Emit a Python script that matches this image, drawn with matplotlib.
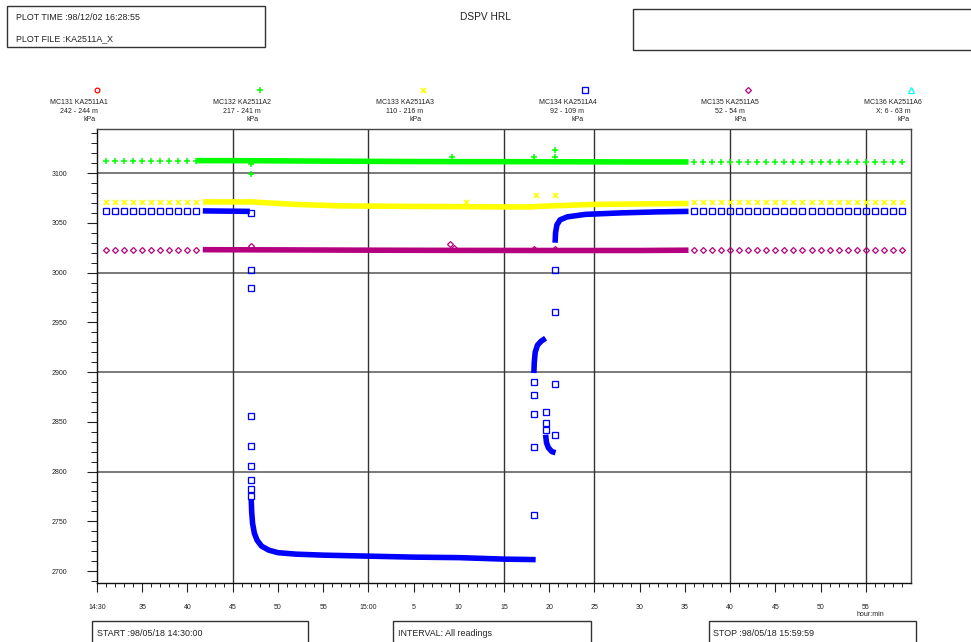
import matplotlib
matplotlib.use("Agg")
import matplotlib.pyplot as plt
from matplotlib.patches import Rectangle
from matplotlib.ticker import FixedLocator

plt.rcParams['font.family'] = ['Liberation Sans', 'DejaVu Sans']

W, H, DPI = 971, 642, 100
TXT = '#222222'

# ---------------- data (time in minutes after 14:30) ----------------
sparse_left_min = [1, 2, 3, 4, 5, 6, 7, 8, 9, 10, 11]
sparse_right_min = [66, 67, 68, 69, 70, 71, 72, 73, 74, 75, 76, 77,
                    78, 79, 80, 81, 82, 83, 84, 85, 86, 87, 88, 89]

# MC132 KA2511A2 (green)
a2_left = [3112.5, 3112.5, 3112.5, 3112.5, 3112.5, 3112.5,
           3112.5, 3112.5, 3112.5, 3112.5, 3112.5]
a2_right = [3111.0, 3111.0, 3111.0, 3111.0, 3111.0, 3111.0, 3111.0, 3111.0,
            3111.0, 3111.0, 3111.0, 3111.0, 3111.0, 3111.0, 3111.0, 3111.0,
            3111.0, 3111.0, 3111.0, 3111.0, 3111.0, 3111.0, 3111.0, 3111.0]
a2_dense_t = [11.0, 15, 20, 25, 30, 35, 40, 45, 50, 55, 60, 65.4]
a2_dense_v = [3112.5, 3112.5, 3112.3, 3112.0, 3111.8, 3111.6,
              3111.5, 3111.5, 3111.4, 3111.3, 3111.2, 3111.2]
a2_odd_t = [17.0, 17.0, 39.2, 48.3, 50.6, 50.6]
a2_odd_v = [3099, 3109.5, 3116, 3116.5, 3122.7, 3116]

# MC133 KA2511A3 (yellow)
a3_left = [3071.0, 3071.0, 3071.0, 3071.0, 3071.0, 3071.0,
           3071.0, 3071.0, 3071.0, 3071.0, 3071.0]
a3_right = [3070.5, 3070.5, 3070.5, 3070.5, 3070.5, 3070.5, 3070.5, 3070.5,
            3070.5, 3070.5, 3070.5, 3070.5, 3070.5, 3070.5, 3070.5, 3070.5,
            3070.5, 3070.5, 3070.5, 3070.5, 3070.5, 3070.5, 3070.5, 3070.5]
a3_dense_t = [11.7, 17, 19, 22, 27, 35, 45, 48, 50, 55, 65.4]
a3_dense_v = [3071, 3071, 3070, 3068.5, 3067, 3066.5, 3066, 3066,
              3067, 3068.5, 3069.5]
a3_odd_t = [17.0, 40.8, 48.5, 50.6]
a3_odd_v = [3071.5, 3070.5, 3077.5, 3077.5]

# MC134 KA2511A4 (blue)
a4_left = [3062.0, 3062.0, 3062.0, 3062.0, 3062.0, 3062.0,
           3062.0, 3062.0, 3062.0, 3062.0, 3062.0]
a4_right = [3062.0, 3062.0, 3062.0, 3062.0, 3062.0, 3062.0, 3062.0, 3062.0,
            3062.0, 3062.0, 3062.0, 3062.0, 3062.0, 3062.0, 3062.0, 3062.0,
            3062.0, 3062.0, 3062.0, 3062.0, 3062.0, 3062.0, 3062.0, 3062.0]
a4_band_t = [11.7, 16.9]
a4_band_v = [3062, 3061.5]
a4_drop_t = [17.0, 17.0, 17.0, 17.0, 17.0, 17.0, 17.0, 17.0, 17.0]
a4_drop_v = [3060, 3003, 2984, 2856, 2826, 2806, 2792, 2782, 2775]
a4_decay_t = [17.05, 17.1, 17.2, 17.4, 17.7, 18.2, 19.0, 20.0, 22.0,
              25.0, 30.0, 35.0, 40.0, 45.0, 48.5]
a4_decay_v = [2772, 2760, 2748, 2738, 2731, 2725, 2721, 2718.5, 2717,
              2716, 2715, 2714, 2713.5, 2712, 2711.5]
a4_rise_t = [48.3, 48.35, 48.45, 48.7, 49.1, 49.6]
a4_rise_v = [2899, 2910, 2920, 2927, 2931, 2934]
a4_dip_t = [49.6, 49.7, 49.9, 50.3, 50.7]
a4_dip_v = [2837, 2829, 2824, 2820, 2819]
a4_rec_t = [50.65, 50.7, 50.85, 51.2, 52, 54, 58, 62, 65.4]
a4_rec_v = [3030, 3040, 3048, 3053, 3056, 3058.5, 3060, 3061, 3061.5]
a4_odd_t = [48.3, 48.3, 48.3, 48.3, 48.3, 49.6, 49.6, 49.6,
            50.65, 50.65, 50.65, 50.65]
a4_odd_v = [2756, 2825, 2858, 2877, 2890, 2860, 2849, 2842,
            2960, 2888, 2837, 3002.7]

# MC135 KA2511A5 (purple)
a5_left = [3023.0, 3023.0, 3023.0, 3023.0, 3023.0, 3023.0,
           3023.0, 3023.0, 3023.0, 3023.0, 3023.0]
a5_right = [3022.5, 3022.5, 3022.5, 3022.5, 3022.5, 3022.5, 3022.5, 3022.5,
            3022.5, 3022.5, 3022.5, 3022.5, 3022.5, 3022.5, 3022.5, 3022.5,
            3022.5, 3022.5, 3022.5, 3022.5, 3022.5, 3022.5, 3022.5, 3022.5]
a5_dense_t = [11.7, 20, 30, 40, 50, 60, 65.4]
a5_dense_v = [3023, 3022.8, 3022.5, 3022.3, 3022.2, 3022.2, 3022.5]
a5_odd_t = [17.0, 39.0, 39.5, 48.3, 50.6]
a5_odd_v = [3027, 3028.5, 3025, 3024, 3023.5]

# legend entries
sensor_ids = ["MC131 KA2511A1", "MC132 KA2511A2", "MC133 KA2511A3",
              "MC134 KA2511A4", "MC135 KA2511A5", "MC136 KA2511A6"]
sensor_depths = ["242 - 244 m", "217 - 241 m", "110 - 216 m",
                 "92 - 109 m", "52 - 54 m", "X: 6 - 63 m"]
sensor_unit = "kPa"

# axis ticks
x_major = [0, 5, 10, 15, 20, 25, 30, 35, 40, 45, 50, 55, 60, 65, 70, 75, 80, 85]
x_labels = ["14:30", "35", "40", "45", "50", "55", "15:00", "5", "10", "15",
            "20", "25", "30", "35", "40", "45", "50", "55"]
y_major = [2700, 2750, 2800, 2850, 2900, 2950, 3000, 3050, 3100]
h_grid = [2800, 2900, 3000, 3100]
v_grid = [15, 30, 45, 55, 70, 85]

# ---------------- styles ----------------
C_RED, C_GREEN, C_YELLOW = '#ff0000', '#00ff00', '#ffff00'
C_BLUE, C_PURPLE, C_CYAN = '#0000ff', '#b4007e', '#00ffff'
styles = [
    dict(marker='o', color=C_RED, ms=3.4, mfc='none', mew=0.9),
    dict(marker='+', color=C_GREEN, ms=4.2, mew=1.1),
    dict(marker='x', color=C_YELLOW, ms=3.6, mew=1.2),
    dict(marker='s', color=C_BLUE, ms=3.7, mfc='none', mew=0.95),
    dict(marker='D', color=C_PURPLE, ms=3.0, mfc='none', mew=0.9),
    dict(marker='^', color=C_CYAN, ms=3.8, mfc='none', mew=0.9),
]
BAND = 4.0

fig = plt.figure(figsize=(W / DPI, H / DPI), dpi=DPI)
ax = fig.add_axes([97 / W, 1 - 583 / H, 814 / W, (583 - 129.3) / H])
ax.set_xlim(0, 90)
ax.set_ylim(2688, 3144)

for yv in h_grid:
    ax.axhline(yv, color='#555555', lw=1.1, zorder=1)
for xv in v_grid:
    ax.axvline(xv, color='#333333', lw=1.0, zorder=1)


def sparse(st, t, v, z):
    ax.plot(t, v, ls='none', zorder=z, **st)


def band(color, t, v, z):
    ax.plot(t, v, color=color, lw=BAND, solid_capstyle='butt',
            solid_joinstyle='round', zorder=z)


# green
sparse(styles[1], sparse_left_min, a2_left, 3)
sparse(styles[1], sparse_right_min, a2_right, 3)
band(C_GREEN, a2_dense_t, a2_dense_v, 3)
sparse(styles[1], a2_odd_t, a2_odd_v, 3)
# yellow
sparse(styles[2], sparse_left_min, a3_left, 4)
sparse(styles[2], sparse_right_min, a3_right, 4)
band(C_YELLOW, a3_dense_t, a3_dense_v, 4)
sparse(styles[2], a3_odd_t, a3_odd_v, 4)
# blue
sparse(styles[3], sparse_left_min, a4_left, 5)
sparse(styles[3], sparse_right_min, a4_right, 5)
band(C_BLUE, a4_band_t, a4_band_v, 5)
sparse(styles[3], a4_drop_t, a4_drop_v, 5)
band(C_BLUE, a4_decay_t, a4_decay_v, 5)
band(C_BLUE, a4_rise_t, a4_rise_v, 5)
band(C_BLUE, a4_dip_t, a4_dip_v, 5)
band(C_BLUE, a4_rec_t, a4_rec_v, 5)
sparse(styles[3], a4_odd_t, a4_odd_v, 5)
# purple
sparse(styles[4], sparse_left_min, a5_left, 6)
sparse(styles[4], sparse_right_min, a5_right, 6)
band(C_PURPLE, a5_dense_t, a5_dense_v, 6)
sparse(styles[4], a5_odd_t, a5_odd_v, 6)

# axes cosmetics
for side in ['left', 'bottom']:
    ax.spines[side].set_color('#111111')
    ax.spines[side].set_linewidth(1.0)
for side in ['top', 'right']:
    ax.spines[side].set_color('#444444')
    ax.spines[side].set_linewidth(1.0)

ax.xaxis.set_major_locator(FixedLocator(x_major))
ax.set_xticklabels(x_labels)
ax.xaxis.set_minor_locator(FixedLocator([m for m in range(1, 90) if m % 5]))
ax.yaxis.set_major_locator(FixedLocator(y_major))
ax.yaxis.set_minor_locator(FixedLocator([v for v in range(2690, 3150, 10) if v % 50]))

ax.tick_params(axis='x', which='major', direction='out', length=6.5, width=0.8,
               color='#222222', pad=8.7, labelsize=5, labelcolor=TXT)
ax.tick_params(axis='x', which='minor', direction='out', length=2.9, width=0.7,
               color='#222222')
ax.tick_params(axis='y', which='major', direction='out', length=7.2, width=0.8,
               color='#222222', pad=14.2, labelsize=5, labelcolor=TXT)
ax.tick_params(axis='y', which='minor', direction='out', length=4.0, width=0.7,
               color='#222222')

# ---------------- page furniture in pixel coordinates ----------------
ov = fig.add_axes([0, 0, 1, 1], zorder=10)
ov.set_axis_off()
ov.set_xlim(0, W)
ov.set_ylim(H, 0)

box_kw = dict(fill=False, lw=1.0, ec='#333333')
ov.add_patch(Rectangle((7, 5.5), 258, 41, **box_kw))
ov.add_patch(Rectangle((633, 9), 345, 41, **box_kw))
ov.add_patch(Rectangle((92.3, 621), 215.4, 30, **box_kw))
ov.add_patch(Rectangle((393.3, 621), 197.7, 30, **box_kw))
ov.add_patch(Rectangle((709.3, 621), 206.4, 30, **box_kw))

hdr = dict(fontsize=6.4, color=TXT, va='center', ha='left')
ov.text(15.7, 17.7, "PLOT TIME :98/12/02 16:28:55", **hdr)
ov.text(15.7, 38.7, "PLOT FILE :KA2511A_X", **hdr)
ov.text(485.5, 17.3, "DSPV HRL", fontsize=7.3, color=TXT, va='center', ha='center')
ov.text(97.3, 633.3, "START :98/05/18 14:30:00", **hdr)
ov.text(397.7, 633.3, "INTERVAL: All readings", **hdr)
ov.text(713.3, 633.3, "STOP :98/05/18 15:59:59", **hdr)
ov.text(870, 615, "hour:min", fontsize=5, color=TXT, va='center', ha='center')

step = 814 / 5
for k in range(6):
    mx = 97 + k * step
    ov.plot([mx], [90], ls='none', clip_on=False, **styles[k])
    ov.text(mx - 18, 102.3, sensor_ids[k], fontsize=5, color=TXT,
            ha='center', va='center')
    ov.text(mx - 18, 111.3, sensor_depths[k], fontsize=5, color=TXT,
            ha='center', va='center')
    ov.text(mx - 7.5, 119.3, sensor_unit, fontsize=5, color=TXT,
            ha='center', va='center')

fig.savefig("out.png", dpi=DPI)
